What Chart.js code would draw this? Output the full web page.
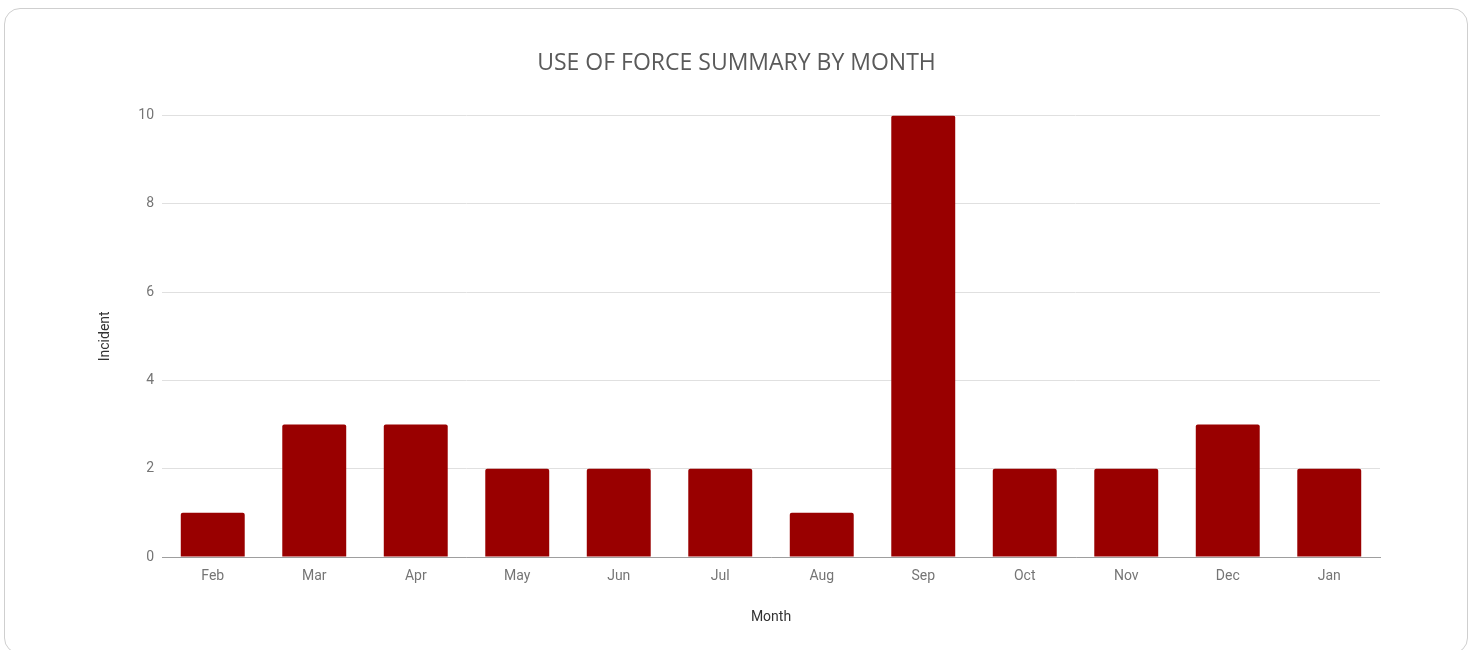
<!DOCTYPE html>
<html>
<head>
<meta charset="utf-8">
<script src="https://cdn.jsdelivr.net/npm/chart.js@4.4.1/dist/chart.umd.min.js"></script>
<style>
  html, body { margin: 0; padding: 0; background: #fff; overflow: hidden; }
  .card {
    position: absolute; left: 4px; top: 8px; width: 1464px; height: 646px;
    border: 1px solid #cfcfcf; border-radius: 16px; box-sizing: border-box;
  }
  .wrap { position: absolute; left: 0; top: 0; width: 1476px; height: 650px; }
</style>
</head>
<body>
<div class="card"></div>
<div class="wrap"><canvas id="chart"></canvas></div>
<script>
const months = ["Feb", "Mar", "Apr", "May", "Jun", "Jul", "Aug", "Sep", "Oct", "Nov", "Dec", "Jan"];
const incidents = [1, 3, 3, 2, 2, 2, 1, 10, 2, 2, 3, 2];
const yTicks = [0, 2, 4, 6, 8, 10];

const ctx = document.getElementById("chart").getContext("2d");

new Chart(ctx, {
  type: "bar",
  data: {
    labels: months,
    datasets: [{
      label: "Incident",
      data: incidents,
      backgroundColor: "#990000",
      borderRadius: 2,
      borderSkipped: "bottom",
      barPercentage: 1,
      categoryPercentage: 0.63,
    }],
  },
  options: {
    responsive: true,
    maintainAspectRatio: false,
    animation: false,
    layout: { padding: { left: 93, right: 96, top: 10, bottom: 20 } },
    plugins: {
      legend: { display: false },
      tooltip: { enabled: false },
      title: {
        display: true,
        text: "USE OF FORCE SUMMARY BY MONTH",
        color: "#5a5a5a",
        font: { family: "'Open Sans'", size: 23, weight: "normal" },
        padding: { top: 40, bottom: 38 },
      },
    },
    scales: {
      x: {
        grid: { display: false },
        border: { display: true, color: "#9e9e9e", width: 1 },
        ticks: {
          color: "#757575",
          font: { family: "Roboto", size: 14 },
          padding: 3,
        },
        title: {
          display: true,
          text: "Month",
          color: "#333333",
          font: { family: "Roboto", size: 14 },
        },
        afterFit: (scale) => { scale.height = 73; },
      },
      y: {
        min: 0,
        max: 10,
        afterBuildTicks: (scale) => { scale.ticks = yTicks.map((v) => ({ value: v })); },
        grid: { color: "#e0e0e0", drawTicks: false },
        border: { display: false },
        ticks: {
          color: "#757575",
          font: { family: "Roboto", size: 14 },
          padding: 8,
        },
        title: {
          display: true,
          text: "Incident",
          color: "#333333",
          font: { family: "Roboto", size: 14 },
        },
        afterFit: (scale) => { scale.width = 69; },
      },
    },
  },
});
</script>
</body>
</html>
